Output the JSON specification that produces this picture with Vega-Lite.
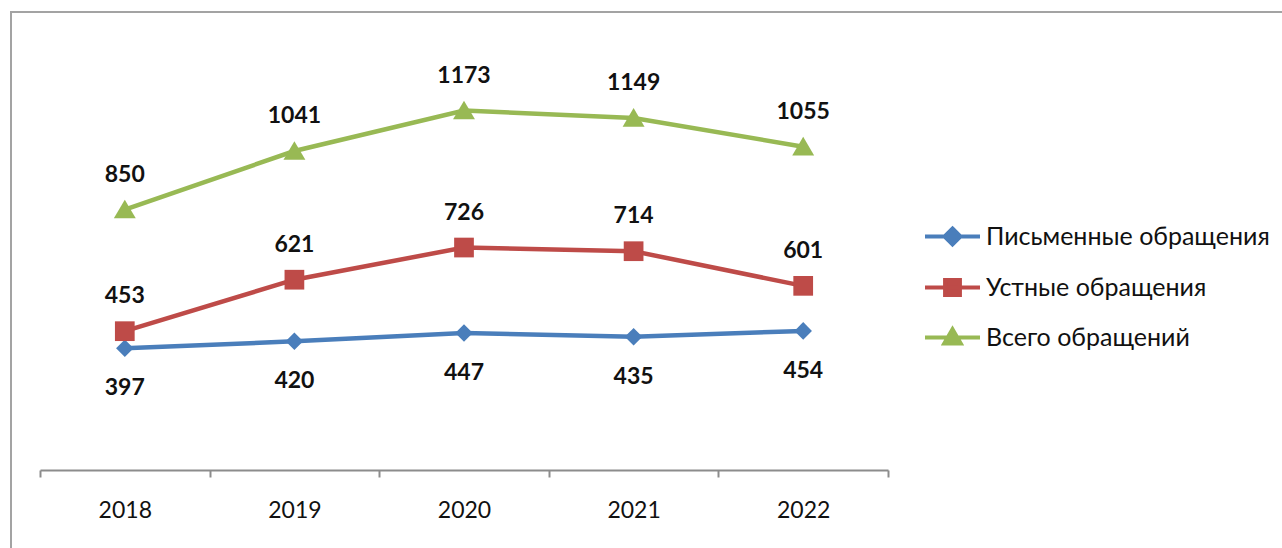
{
  "$schema": "https://vega.github.io/schema/vega-lite/v6.json",
  "width": 1282,
  "height": 547,
  "autosize": {"type": "none"},
  "padding": {"left": 11, "top": 12, "right": -11, "bottom": -11},
  "background": "white",
  "config": {
    "view": {"stroke": "#a3a3a3", "strokeWidth": 2},
    "font": "Lato"
  },
  "data": {
    "values": [
      {"year": "2018", "series": "Письменные обращения", "value": 397},
      {"year": "2019", "series": "Письменные обращения", "value": 420},
      {"year": "2020", "series": "Письменные обращения", "value": 447},
      {"year": "2021", "series": "Письменные обращения", "value": 435},
      {"year": "2022", "series": "Письменные обращения", "value": 454},
      {"year": "2018", "series": "Устные обращения", "value": 453},
      {"year": "2019", "series": "Устные обращения", "value": 621},
      {"year": "2020", "series": "Устные обращения", "value": 726},
      {"year": "2021", "series": "Устные обращения", "value": 714},
      {"year": "2022", "series": "Устные обращения", "value": 601},
      {"year": "2018", "series": "Всего обращений", "value": 850},
      {"year": "2019", "series": "Всего обращений", "value": 1041},
      {"year": "2020", "series": "Всего обращений", "value": 1173},
      {"year": "2021", "series": "Всего обращений", "value": 1149},
      {"year": "2022", "series": "Всего обращений", "value": 1055}
    ]
  },
  "encoding": {
    "x": {
      "field": "year",
      "type": "ordinal",
      "bandPosition": 0.5,
      "scale": {"type": "band", "range": [29, 877], "paddingInner": 0, "paddingOuter": 0},
      "axis": {
        "title": null,
        "grid": false,
        "domainColor": "#8c8c8c",
        "domainWidth": 2,
        "tickColor": "#8c8c8c",
        "tickWidth": 2,
        "tickSize": 7,
        "tickBand": "extent",
        "labelFontSize": 23,
        "labelColor": "#111111",
        "labelPadding": 22,
        "labelAngle": 0,
        "offset": -89
      }
    },
    "y": {
      "field": "value",
      "type": "quantitative",
      "scale": {"domain": [0, 1400], "range": [458, 29], "nice": false, "zero": true},
      "axis": null
    }
  },
  "layer": [
    {
      "mark": {"type": "line", "strokeWidth": 4.5},
      "encoding": {
        "color": {
          "field": "series",
          "type": "nominal",
          "scale": {
            "domain": ["Письменные обращения", "Устные обращения", "Всего обращений"],
            "range": ["#4a7ebb", "#be4b48", "#98b954"]
          },
          "legend": {
            "title": null,
            "orient": "none",
            "legendX": 912,
            "legendY": 195,
            "labelFontSize": 25,
            "labelColor": "#111111",
            "labelOffset": 4,
            "labelLimit": 0,
            "rowPadding": 5,
            "symbolSize": 3025,
            "encode": {
              "symbols": {
                "update": {
                  "shape": {"signal": "datum.value === 'Письменные обращения' ? 'M-1,0H1M0,-0.29L0.29,0L0,0.29L-0.29,0Z' : datum.value === 'Устные обращения' ? 'M-1,0H1M-0.27,-0.27H0.27V0.27H-0.27Z' : 'M-1,0H1M0,-0.3L0.3,0.22L-0.3,0.22Z'"},
                  "fill": {"signal": "scale('color', datum.value)"},
                  "stroke": {"signal": "scale('color', datum.value)"},
                  "strokeWidth": {"value": 4},
                  "size": {"value": 3025},
                  "opacity": {"value": 1},
                  "fillOpacity": {"value": 1}
                }
              }
            }
          }
        }
      }
    },
    {
      "transform": [{"filter": "datum.series === 'Письменные обращения'"}],
      "mark": {"type": "point", "filled": true, "opacity": 1, "size": 480, "strokeWidth": 0, "shape": "M0,-0.8L0.8,0L0,0.8L-0.8,0Z"},
      "encoding": {"color": {"field": "series", "type": "nominal", "legend": null}}
    },
    {
      "transform": [{"filter": "datum.series === 'Устные обращения'"}],
      "mark": {"type": "point", "filled": true, "opacity": 1, "size": 480, "strokeWidth": 0, "shape": "M-0.9,-0.9H0.9V0.9H-0.9Z"},
      "encoding": {"color": {"field": "series", "type": "nominal", "legend": null}}
    },
    {
      "transform": [{"filter": "datum.series === 'Всего обращений'"}],
      "mark": {"type": "point", "filled": true, "opacity": 1, "size": 480, "strokeWidth": 0, "shape": "M0,-0.9L1,0.8L-1,0.8Z"},
      "encoding": {"color": {"field": "series", "type": "nominal", "legend": null}}
    },
    {
      "transform": [{"filter": "datum.series === 'Письменные обращения'"}],
      "mark": {"type": "text", "fontSize": 23, "fontWeight": "bold", "baseline": "middle", "dy": 40, "color": "#111111"},
      "encoding": {"text": {"field": "value"}}
    },
    {
      "transform": [{"filter": "datum.series !== 'Письменные обращения'"}],
      "mark": {"type": "text", "fontSize": 23, "fontWeight": "bold", "baseline": "middle", "dy": -35, "color": "#111111"},
      "encoding": {"text": {"field": "value"}}
    }
  ]
}
